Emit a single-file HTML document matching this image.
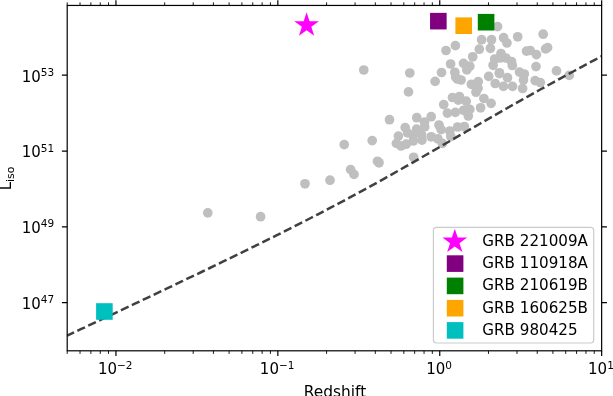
<!DOCTYPE html><html><head><meta charset="utf-8"><title>GRB Liso vs Redshift</title>
<style>html,body{margin:0;padding:0;background:#fff;overflow:hidden}svg{display:block}text{font-family:"DejaVu Sans","Liberation Sans",sans-serif;fill:#000}</style></head><body>
<svg width="613" height="396" viewBox="0 0 613 396">
<rect width="613" height="396" fill="#fff"/>
<g fill="#bfbfbf">
<circle cx="207.8" cy="212.9" r="4.85"/>
<circle cx="260.6" cy="216.7" r="4.85"/>
<circle cx="305.0" cy="183.8" r="4.85"/>
<circle cx="330.0" cy="180.2" r="4.85"/>
<circle cx="350.6" cy="169.6" r="4.85"/>
<circle cx="354.0" cy="174.4" r="4.85"/>
<circle cx="344.2" cy="144.6" r="4.85"/>
<circle cx="372.2" cy="140.6" r="4.85"/>
<circle cx="377.5" cy="161.3" r="4.85"/>
<circle cx="379.0" cy="162.8" r="4.85"/>
<circle cx="363.8" cy="70.0" r="4.85"/>
<circle cx="409.8" cy="73.0" r="4.85"/>
<circle cx="408.5" cy="91.9" r="4.85"/>
<circle cx="389.5" cy="119.7" r="4.85"/>
<circle cx="405.2" cy="127.6" r="4.85"/>
<circle cx="416.8" cy="117.7" r="4.85"/>
<circle cx="431.2" cy="116.7" r="4.85"/>
<circle cx="443.7" cy="104.6" r="4.85"/>
<circle cx="447.4" cy="113.1" r="4.85"/>
<circle cx="455.3" cy="112.4" r="4.85"/>
<circle cx="439" cy="125" r="4.85"/>
<circle cx="441.1" cy="129.6" r="4.85"/>
<circle cx="398.4" cy="136.1" r="4.85"/>
<circle cx="396.4" cy="143.4" r="4.85"/>
<circle cx="401" cy="146" r="4.85"/>
<circle cx="407.6" cy="132.9" r="4.85"/>
<circle cx="416.6" cy="129.1" r="4.85"/>
<circle cx="424.5" cy="122.2" r="4.85"/>
<circle cx="424.7" cy="126.9" r="4.85"/>
<circle cx="421.6" cy="135" r="4.85"/>
<circle cx="413" cy="135.5" r="4.85"/>
<circle cx="413.3" cy="141" r="4.85"/>
<circle cx="422" cy="140.1" r="4.85"/>
<circle cx="431.2" cy="136.8" r="4.85"/>
<circle cx="437.8" cy="138.8" r="4.85"/>
<circle cx="442.4" cy="143.4" r="4.85"/>
<circle cx="449.8" cy="131" r="4.85"/>
<circle cx="450.8" cy="136.5" r="4.85"/>
<circle cx="457.6" cy="127" r="4.85"/>
<circle cx="464.3" cy="126.5" r="4.85"/>
<circle cx="497.6" cy="26.6" r="4.85"/>
<circle cx="446.0" cy="50.5" r="4.85"/>
<circle cx="455.4" cy="45.6" r="4.85"/>
<circle cx="481.6" cy="39.7" r="4.85"/>
<circle cx="491.5" cy="39.7" r="4.85"/>
<circle cx="479.3" cy="49.2" r="4.85"/>
<circle cx="490.4" cy="48.3" r="4.85"/>
<circle cx="472.7" cy="56.8" r="4.85"/>
<circle cx="503.6" cy="37.7" r="4.85"/>
<circle cx="506.9" cy="43" r="4.85"/>
<circle cx="450.6" cy="64.0" r="4.85"/>
<circle cx="463.5" cy="63.4" r="4.85"/>
<circle cx="469.8" cy="66.2" r="4.85"/>
<circle cx="441.5" cy="72.5" r="4.85"/>
<circle cx="454.8" cy="72.3" r="4.85"/>
<circle cx="501" cy="53.5" r="4.85"/>
<circle cx="494.7" cy="59" r="4.85"/>
<circle cx="493.1" cy="65.3" r="4.85"/>
<circle cx="505.9" cy="58.0" r="4.85"/>
<circle cx="499.4" cy="72.8" r="4.85"/>
<circle cx="500.3" cy="58" r="4.85"/>
<circle cx="511.5" cy="61.5" r="4.85"/>
<circle cx="512.3" cy="65.5" r="4.85"/>
<circle cx="517.7" cy="36.8" r="4.85"/>
<circle cx="543.2" cy="34.2" r="4.85"/>
<circle cx="526.5" cy="51.1" r="4.85"/>
<circle cx="530.2" cy="50.5" r="4.85"/>
<circle cx="536.4" cy="54.6" r="4.85"/>
<circle cx="547.6" cy="47.6" r="4.85"/>
<circle cx="545.6" cy="48.9" r="4.85"/>
<circle cx="536" cy="66.6" r="4.85"/>
<circle cx="556.5" cy="70.9" r="4.85"/>
<circle cx="519.5" cy="72.1" r="4.85"/>
<circle cx="524.3" cy="74" r="4.85"/>
<circle cx="466.8" cy="69.9" r="4.85"/>
<circle cx="435.1" cy="81.4" r="4.85"/>
<circle cx="455.6" cy="77.1" r="4.85"/>
<circle cx="461.1" cy="80" r="4.85"/>
<circle cx="457.4" cy="79" r="4.85"/>
<circle cx="471.4" cy="84.3" r="4.85"/>
<circle cx="478.2" cy="81.7" r="4.85"/>
<circle cx="478" cy="88.3" r="4.85"/>
<circle cx="476" cy="92.2" r="4.85"/>
<circle cx="488.7" cy="76.4" r="4.85"/>
<circle cx="499.4" cy="73.6" r="4.85"/>
<circle cx="495.2" cy="83.5" r="4.85"/>
<circle cx="503.4" cy="86.4" r="4.85"/>
<circle cx="507.5" cy="77.7" r="4.85"/>
<circle cx="512.5" cy="86.4" r="4.85"/>
<circle cx="452.5" cy="97.5" r="4.85"/>
<circle cx="459.4" cy="96.5" r="4.85"/>
<circle cx="458.3" cy="100.1" r="4.85"/>
<circle cx="466.2" cy="101.2" r="4.85"/>
<circle cx="483.9" cy="98.5" r="4.85"/>
<circle cx="491.1" cy="103.4" r="4.85"/>
<circle cx="480.6" cy="107.8" r="4.85"/>
<circle cx="469.8" cy="109.4" r="4.85"/>
<circle cx="463.6" cy="110.3" r="4.85"/>
<circle cx="468.3" cy="116" r="4.85"/>
<circle cx="569.2" cy="75.4" r="4.85"/>
<circle cx="406.2" cy="144.2" r="4.85"/>
<circle cx="413.6" cy="157.3" r="4.85"/>
<circle cx="522.6" cy="88.5" r="4.85"/>
<circle cx="523.5" cy="80" r="4.85"/>
<circle cx="535.1" cy="80.6" r="4.85"/>
<circle cx="540.3" cy="82.6" r="4.85"/>
</g>
<polyline points="67.20,335.61 73.97,332.43 80.73,329.24 87.50,326.06 94.26,322.87 101.03,319.69 107.79,316.50 114.56,313.31 121.32,310.11 128.09,306.92 134.85,303.72 141.62,300.51 148.38,297.31 155.15,294.10 161.91,290.89 168.68,287.67 175.44,284.45 182.21,281.22 188.97,277.99 195.74,274.75 202.50,271.50 209.27,268.25 216.03,264.99 222.80,261.72 229.56,258.44 236.33,255.15 243.09,251.85 249.86,248.54 256.63,245.22 263.39,241.88 270.16,238.52 276.92,235.15 283.69,231.76 290.45,228.36 297.22,224.93 303.98,221.48 310.75,218.01 317.51,214.52 324.28,211.00 331.04,207.46 337.81,203.89 344.57,200.29 351.34,196.67 358.10,193.01 364.87,189.33 371.63,185.62 378.40,181.88 385.16,178.11 391.93,174.32 398.69,170.50 405.46,166.66 412.22,162.80 418.99,158.92 425.76,155.03 432.52,151.12 439.29,147.21 446.05,143.29 452.82,139.37 459.58,135.45 466.35,131.53 473.11,127.62 479.88,123.72 486.64,119.83 493.41,115.96 500.17,112.10 506.94,108.25 513.70,104.42 520.47,100.61 527.23,96.81 534.00,93.04 540.76,89.28 547.53,85.53 554.29,81.81 561.06,78.10 567.82,74.41 574.59,70.74 581.35,67.08 588.12,63.45 594.88,59.82 601.65,56.21" fill="none" stroke="#404040" stroke-width="2.5" stroke-dasharray="8.41 3.65" stroke-dashoffset="0.85"/>
<polygon points="306.60,12.25 309.51,21.20 318.92,21.20 311.30,26.73 314.21,35.68 306.60,30.15 298.99,35.68 301.90,26.73 294.28,21.20 303.69,21.20" fill="#ff00ff"/>
<rect x="430.05" y="12.85" width="16.6" height="16.6" fill="#800080"/>
<rect x="477.80" y="13.90" width="16.6" height="16.6" fill="#008000"/>
<rect x="455.40" y="17.40" width="16.6" height="16.6" fill="#ffa500"/>
<rect x="96.10" y="303.20" width="16.6" height="16.6" fill="#00bfbf"/>
<rect x="67.2" y="5.45" width="534.4499999999999" height="345.35" fill="none" stroke="#000" stroke-width="1.2"/>
<path d="M115.94 350.8 v5.3 M115.94 5.45 v-5.3 M277.84 350.8 v5.3 M277.84 5.45 v-5.3 M439.75 350.8 v5.3 M439.75 5.45 v-5.3 M601.65 350.8 v5.3 M601.65 5.45 v-5.3 M67.2 302.72 h-5.3 M601.65 302.72 h5.3 M67.2 226.88 h-5.3 M601.65 226.88 h5.3 M67.2 151.04 h-5.3 M601.65 151.04 h5.3 M67.2 75.20 h-5.3 M601.65 75.20 h5.3" stroke="#000" stroke-width="1.2" fill="none"/>
<path d="M67.20 350.8 v3.1 M67.20 5.45 v-3.1 M80.02 350.8 v3.1 M80.02 5.45 v-3.1 M90.86 350.8 v3.1 M90.86 5.45 v-3.1 M100.25 350.8 v3.1 M100.25 5.45 v-3.1 M108.53 350.8 v3.1 M108.53 5.45 v-3.1 M164.68 350.8 v3.1 M164.68 5.45 v-3.1 M193.19 350.8 v3.1 M193.19 5.45 v-3.1 M213.41 350.8 v3.1 M213.41 5.45 v-3.1 M229.10 350.8 v3.1 M229.10 5.45 v-3.1 M241.92 350.8 v3.1 M241.92 5.45 v-3.1 M252.76 350.8 v3.1 M252.76 5.45 v-3.1 M262.15 350.8 v3.1 M262.15 5.45 v-3.1 M270.43 350.8 v3.1 M270.43 5.45 v-3.1 M326.58 350.8 v3.1 M326.58 5.45 v-3.1 M355.09 350.8 v3.1 M355.09 5.45 v-3.1 M375.32 350.8 v3.1 M375.32 5.45 v-3.1 M391.01 350.8 v3.1 M391.01 5.45 v-3.1 M403.83 350.8 v3.1 M403.83 5.45 v-3.1 M414.67 350.8 v3.1 M414.67 5.45 v-3.1 M424.06 350.8 v3.1 M424.06 5.45 v-3.1 M432.34 350.8 v3.1 M432.34 5.45 v-3.1 M488.48 350.8 v3.1 M488.48 5.45 v-3.1 M516.99 350.8 v3.1 M516.99 5.45 v-3.1 M537.22 350.8 v3.1 M537.22 5.45 v-3.1 M552.91 350.8 v3.1 M552.91 5.45 v-3.1 M565.73 350.8 v3.1 M565.73 5.45 v-3.1 M576.57 350.8 v3.1 M576.57 5.45 v-3.1 M585.96 350.8 v3.1 M585.96 5.45 v-3.1 M594.24 350.8 v3.1 M594.24 5.45 v-3.1" stroke="#000" stroke-width="0.9" fill="none"/>
<text x="97.95" y="374.4" font-size="15">10<tspan dy="-5.8" font-size="10.5">−2</tspan></text>
<text x="259.85" y="374.4" font-size="15">10<tspan dy="-5.8" font-size="10.5">−1</tspan></text>
<text x="426.16" y="374.4" font-size="15">10<tspan dy="-5.8" font-size="10.5">0</tspan></text>
<text x="588.06" y="374.4" font-size="15">10<tspan dy="-5.8" font-size="10.5">1</tspan></text>
<text x="21.7" y="309.12" font-size="15">10<tspan dy="-5.8" font-size="10.5">47</tspan></text>
<text x="21.7" y="233.28" font-size="15">10<tspan dy="-5.8" font-size="10.5">49</tspan></text>
<text x="21.7" y="157.44" font-size="15">10<tspan dy="-5.8" font-size="10.5">51</tspan></text>
<text x="21.7" y="81.60" font-size="15">10<tspan dy="-5.8" font-size="10.5">53</tspan></text>
<text x="335" y="397.3" font-size="15.4" text-anchor="middle">Redshift</text>
<text transform="translate(11.2,190.3) rotate(-90)" font-size="15">L<tspan dy="2.6" font-size="11">iso</tspan></text>
<rect x="433.4" y="227.4" width="160.3" height="115.6" rx="3" ry="3" fill="#fff" fill-opacity="0.8" stroke="#cccccc" stroke-width="1.2"/>
<polygon points="454.80,228.65 457.71,237.60 467.12,237.60 459.50,243.13 462.41,252.08 454.80,246.55 447.19,252.08 450.10,243.13 442.48,237.60 451.89,237.60" fill="#ff00ff"/>
<text x="482.3" y="245.85" font-size="15.15">GRB 221009A</text>
<rect x="446.80" y="255.30" width="16.6" height="16.6" fill="#800080"/>
<text x="482.3" y="268.15" font-size="15.15">GRB 110918A</text>
<rect x="446.80" y="277.60" width="16.6" height="16.6" fill="#008000"/>
<text x="482.3" y="290.45" font-size="15.15">GRB 210619B</text>
<rect x="446.80" y="299.90" width="16.6" height="16.6" fill="#ffa500"/>
<text x="482.3" y="312.75" font-size="15.15">GRB 160625B</text>
<rect x="446.80" y="322.10" width="16.6" height="16.6" fill="#00bfbf"/>
<text x="482.3" y="334.95" font-size="15.15">GRB 980425</text>
</svg></body></html>
